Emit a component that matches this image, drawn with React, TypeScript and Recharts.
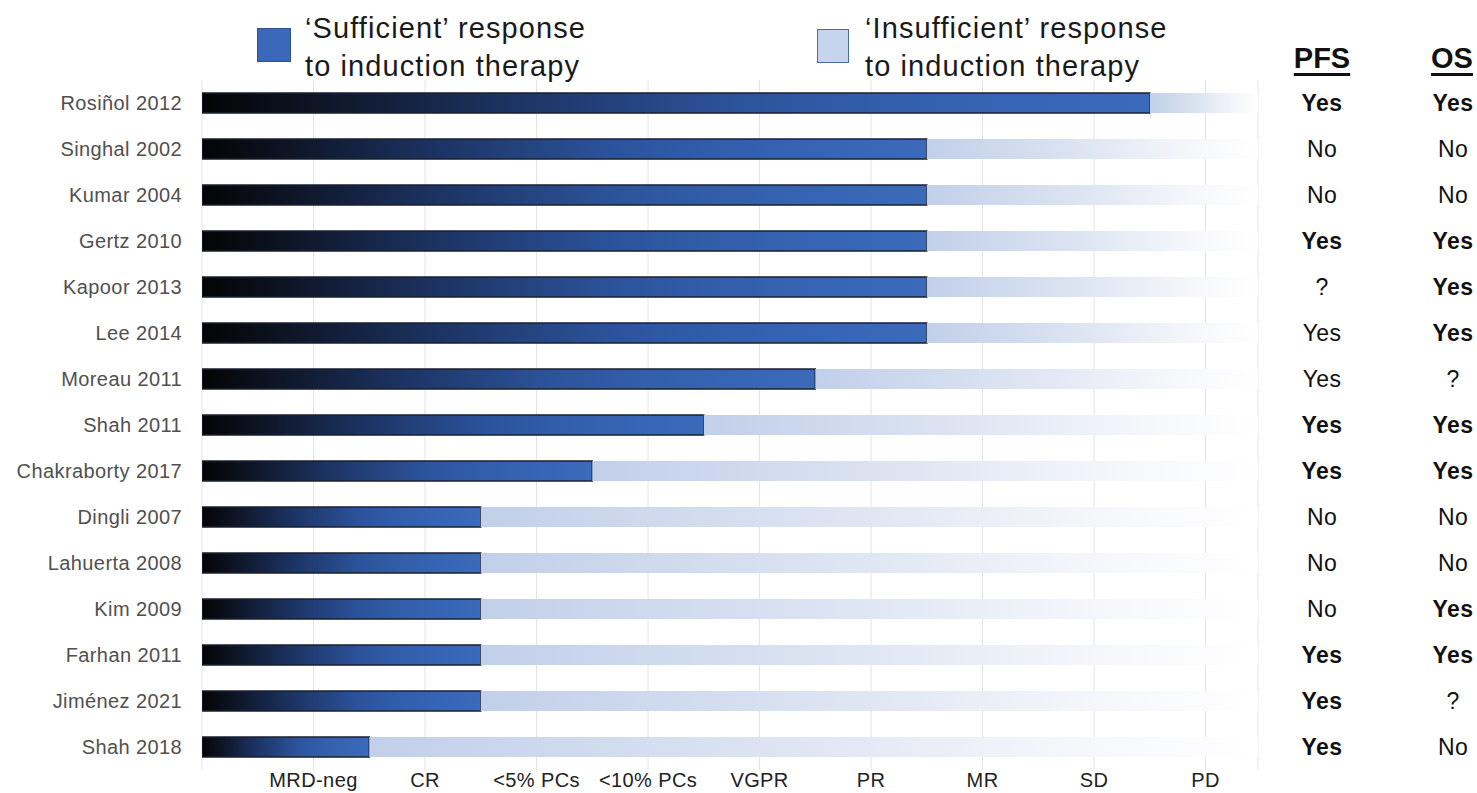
import React from "react";
import { BarChart, Bar, XAxis, YAxis, CartesianGrid } from "recharts";

const studies = [
  "Rosiñol 2012",
  "Singhal 2002",
  "Kumar 2004",
  "Gertz 2010",
  "Kapoor 2013",
  "Lee 2014",
  "Moreau 2011",
  "Shah 2011",
  "Chakraborty 2017",
  "Dingli 2007",
  "Lahuerta 2008",
  "Kim 2009",
  "Farhan 2011",
  "Jiménez 2021",
  "Shah 2018",
];

// depth-of-response threshold considered "sufficient" (in response-category units)
const sufficientDepth = [8.5, 6.5, 6.5, 6.5, 6.5, 6.5, 5.5, 4.5, 3.5, 2.5, 2.5, 2.5, 2.5, 2.5, 1.5];

const scaleMax = 9.47;

const responseTicks = [0, 1, 2, 3, 4, 5, 6, 7, 8, 9];
const responseLabels = ["", "MRD-neg", "CR", "<5% PCs", "<10% PCs", "VGPR", "PR", "MR", "SD", "PD"];

const pfs = ["Yes", "No", "No", "Yes", "?", "Yes", "Yes", "Yes", "Yes", "No", "No", "No", "Yes", "Yes", "Yes"];
const pfsBold = [true, false, false, true, false, false, false, true, true, false, false, false, true, true, true];
const os = ["Yes", "No", "No", "Yes", "Yes", "Yes", "?", "Yes", "Yes", "No", "No", "Yes", "Yes", "?", "No"];
const osBold = [true, false, false, true, true, true, false, true, true, false, false, true, true, false, false];

const data = studies.map((s, i) => ({
  study: s,
  sufficient: sufficientDepth[i],
  insufficient: scaleMax - sufficientDepth[i],
  pfs: pfs[i],
  pfsBold: pfsBold[i],
  os: os[i],
  osBold: osBold[i],
}));

const FONT = "'Liberation Sans', Arial, Helvetica, sans-serif";

const RightTick = (props: any) => {
  const { x, y, index } = props;
  const row = data[index];
  if (!row) return null;
  return (
    <g>
      <text
        x={x + 64}
        y={y}
        dy="0.36em"
        textAnchor="middle"
        fontFamily={FONT}
        fontSize={23}
        letterSpacing={0.4}
        fontWeight={row.pfsBold ? 700 : 400}
        fill="#111"
      >
        {row.pfs}
      </text>
      <text
        x={x + 195}
        y={y}
        dy="0.36em"
        textAnchor="middle"
        fontFamily={FONT}
        fontSize={23}
        letterSpacing={0.4}
        fontWeight={row.osBold ? 700 : 400}
        fill="#111"
      >
        {row.os}
      </text>
    </g>
  );
};

const legendText: React.CSSProperties = {
  position: "absolute",
  fontFamily: FONT,
  fontSize: 29,
  letterSpacing: "1.1px",
  lineHeight: "38px",
  color: "#1a1a1a",
  whiteSpace: "nowrap",
};

const headerText: React.CSSProperties = {
  position: "absolute",
  fontFamily: FONT,
  fontSize: 29,
  fontWeight: 700,
  color: "#111",
  textDecoration: "underline",
  textDecorationThickness: "3px",
  textUnderlineOffset: "5px",
  transform: "translateX(-50%)",
  lineHeight: "32px",
};

export default function App() {
  return (
    <div style={{ position: "absolute", left: 0, top: 0, width: 1477, height: 793, background: "#fff" }}>
      <BarChart
        layout="vertical"
        width={1477}
        height={793}
        data={data}
        margin={{ top: 80, right: 0, bottom: 0, left: 0 }}
        barSize={20}
      >
        <defs>
          <linearGradient id="gradSuff" x1="0" y1="0" x2="1" y2="0">
            <stop offset="0%" stopColor="#040404" />
            <stop offset="10%" stopColor="#0c1220" />
            <stop offset="32%" stopColor="#1c3362" />
            <stop offset="57%" stopColor="#2c549c" />
            <stop offset="80%" stopColor="#3563b2" />
            <stop offset="100%" stopColor="#3b6abb" />
          </linearGradient>
          <linearGradient id="gradInsuff" x1="0" y1="0" x2="1" y2="0">
            <stop offset="0%" stopColor="#c1cfe9" />
            <stop offset="45%" stopColor="#dce4f2" />
            <stop offset="80%" stopColor="#f5f7fb" />
            <stop offset="100%" stopColor="#ffffff" />
          </linearGradient>
        </defs>
        <CartesianGrid horizontal={false} stroke="#e3e3e3" strokeWidth={1} />
        <XAxis
          type="number"
          domain={[0, scaleMax]}
          ticks={responseTicks}
          tickFormatter={(v: number) => responseLabels[v] ?? ""}
          axisLine={false}
          tickLine={false}
          tickSize={0}
          tickMargin={3}
          height={23}
          interval={0}
          tick={{ fontFamily: FONT, fontSize: 20, letterSpacing: 0.4, fill: "#222" }}
          allowDataOverflow
        />
        <YAxis
          yAxisId="left"
          type="category"
          dataKey="study"
          width={202}
          axisLine={false}
          tickLine={false}
          tickSize={0}
          tickMargin={20}
          interval={0}
          tick={{ fontFamily: FONT, fontSize: 20, letterSpacing: 0.4, fill: "#505050" }}
        />
        <YAxis
          yAxisId="right"
          orientation="right"
          type="category"
          dataKey="study"
          width={219}
          axisLine={false}
          tickLine={false}
          tickSize={0}
          tickMargin={0}
          interval={0}
          tick={<RightTick />}
        />
        <Bar
          yAxisId="left"
          dataKey="sufficient"
          stackId="a"
          fill="url(#gradSuff)"
          stroke="#1a2030"
          strokeWidth={1.5}
          isAnimationActive={false}
        />
        <Bar
          yAxisId="left"
          dataKey="insufficient"
          stackId="a"
          fill="url(#gradInsuff)"
          isAnimationActive={false}
        />
      </BarChart>

      <div
        style={{
          position: "absolute",
          left: 257,
          top: 28,
          width: 32,
          height: 32,
          background: "#3c68b9",
          border: "1px solid #2d538f",
        }}
      />
      <div style={{ ...legendText, left: 305, top: 9 }}>
        ‘Sufficient’ response
        <br />
        to induction therapy
      </div>
      <div
        style={{
          position: "absolute",
          left: 817,
          top: 29,
          width: 30,
          height: 32,
          background: "#c7d5ec",
          border: "1px solid #4a6aa6",
        }}
      />
      <div style={{ ...legendText, left: 865, top: 9 }}>
        ‘Insufficient’ response
        <br />
        to induction therapy
      </div>

      <div style={{ ...headerText, left: 1322, top: 42 }}>PFS</div>
      <div style={{ ...headerText, left: 1452, top: 42 }}>OS</div>
    </div>
  );
}
